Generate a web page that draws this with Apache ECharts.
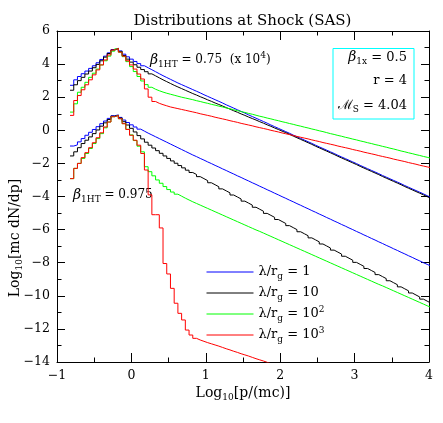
<!DOCTYPE html>
<html><head><meta charset="utf-8">
<script src="https://cdn.jsdelivr.net/npm/echarts@6/dist/echarts.min.js"></script>
<style>html,body{margin:0;padding:0;background:#fff}#c{width:443px;height:423px}</style>
</head><body><div id="c"></div>
<script>
// Histogram bins in log10[p/(mc)]: left edge of the first bin and the bin width
const binStart = -0.825;
const binWidth = 0.05;

// Series keys (legend) and colours
const seriesKeys = ['l1', 'l10', 'l100', 'l1000'];
const seriesColors = ['#0000ff', '#000000', '#00ff00', '#ff0000'];

// Upper group: beta_1HT = 0.75 (x 10^4), values of log10[mc dN/dp] per bin
const blueUpper = [2.72,3.05,3.25,3.42,3.58,3.74,3.9,4.08,4.28,4.48,4.68,4.88,4.95,
 4.8,4.6,4.44,4.3,4.16,4.03,3.9,3.78,3.66,3.54,3.42,3.3,3.19,3.08,2.97,2.86,2.76,2.66,2.56,2.46,
 2.36,2.26,2.15,2.05,1.95,1.85,1.75,1.65,1.54,1.44,1.34,1.24,1.14,1.04,0.93,0.83,0.73,0.63,0.53,0.43,0.32,0.22,0.12,0.02,-0.08,-0.18,-0.29,-0.39,-0.49,-0.59,-0.69,-0.79,-0.9,-1.0,-1.1,-1.2,-1.3,-1.4,-1.51,-1.61,-1.71,-1.81,-1.91,-2.01,-2.12,-2.22,-2.32,-2.42,-2.52,-2.62,-2.73,-2.83,-2.93,-3.03,-3.13,-3.23,-3.34,-3.44,-3.54,-3.64,-3.74,-3.84,-3.95,-4.05];
const blackUpper = [2.42,2.75,3.0,3.2,3.4,3.58,3.78,3.98,4.2,4.42,4.64,4.85,4.93,
 4.76,4.52,4.3,4.12,3.96,3.81,3.67,3.54,3.41,3.29,3.17,3.05,2.94,2.83,2.72,2.62,2.52,2.42,2.32,2.22,
 2.13,2.03,1.94,1.84,1.75,1.65,1.56,1.47,1.37,1.28,1.18,1.09,0.99,0.9,0.8,0.71,0.62,0.52,0.43,0.33,0.24,0.14,0.05,-0.05,-0.14,
 -0.24,-0.35,-0.45,-0.55,-0.65,-0.75,-0.85,-0.96,-1.06,-1.16,-1.26,-1.36,-1.46,-1.57,-1.67,-1.77,-1.87,-1.97,-2.07,-2.18,-2.28,-2.38,-2.48,-2.58,-2.68,-2.79,-2.89,-2.99,-3.09,-3.19,-3.29,-3.4,-3.5,-3.6,-3.7,-3.8,-3.9,-4.01,-4.11];
const greenUpper = [1.1,1.6,2.3,2.6,2.9,3.2,3.45,3.7,3.95,4.2,4.48,4.78,4.92,
 4.72,4.45,4.15,3.85,3.55,3.25,2.98,2.76,2.6,2.48,2.39,2.31,2.24,2.18,2.12,2.06,2.0,1.95,1.9,1.85,
 1.79,1.74,1.68,1.63,1.57,1.52,1.46,1.41,1.35,1.3,1.24,1.19,1.13,1.08,1.02,0.97,0.91,0.85,0.8,0.74,0.69,0.63,0.58,0.52,0.47,0.41,0.36,0.3,0.25,0.19,0.14,0.08,0.03,-0.03,-0.08,-0.14,-0.2,-0.25,-0.31,-0.36,-0.42,-0.47,-0.53,-0.58,-0.64,-0.69,-0.75,-0.8,-0.86,-0.91,-0.97,-1.02,-1.08,-1.13,-1.19,-1.25,-1.3,-1.36,-1.41,-1.47,-1.52,-1.58,-1.63,-1.69];
const redUpper = [0.9,1.8,2.1,2.45,2.75,3.05,3.35,3.65,3.95,4.25,4.55,4.85,4.95,
 4.72,4.48,4.2,3.95,3.7,3.4,3.1,2.5,2.0,1.74,1.63,1.55,1.48,1.41,1.36,1.31,1.26,1.21,1.16,1.11,
 1.06,1.0,0.95,0.9,0.85,0.79,0.74,0.69,0.64,0.58,0.53,0.48,0.42,0.37,0.32,0.27,0.21,0.16,0.11,0.06,0.0,-0.05,-0.1,-0.16,-0.21,-0.26,-0.31,-0.37,-0.42,-0.47,-0.52,-0.58,-0.63,-0.68,-0.74,-0.79,-0.84,-0.89,-0.95,-1.0,-1.05,-1.1,-1.16,-1.21,-1.26,-1.32,-1.37,-1.42,-1.47,-1.53,-1.58,-1.63,-1.68,-1.74,-1.79,-1.84,-1.89,-1.95,-2.0,-2.05,-2.11,-2.16,-2.21,-2.26];

// Lower group: beta_1HT = 0.975
const blueLower = [-0.95,-0.88,-0.7,-0.5,-0.3,-0.12,0.05,0.22,0.4,0.56,0.72,0.88,0.93,
 0.78,0.62,0.47,0.33,0.2,0.07,-0.05,-0.17,-0.28,-0.39,-0.5,-0.61,-0.72,-0.83,-0.94,-1.05,-1.16,-1.27,-1.38,-1.49,
 -1.59,-1.7,-1.8,-1.91,-2.01,-2.12,-2.22,-2.33,-2.43,-2.54,-2.64,-2.75,-2.85,-2.96,-3.06,-3.17,-3.27,-3.38,-3.48,-3.59,-3.69,-3.8,-3.9,-4.01,-4.11,-4.22,-4.32,-4.43,-4.53,-4.64,-4.74,-4.85,-4.95,-5.06,-5.16,-5.27,-5.37,-5.48,-5.58,-5.69,-5.79,-5.9,-6.0,-6.11,-6.21,-6.32,-6.42,-6.53,-6.63,-6.74,-6.84,-6.95,-7.05,-7.16,-7.26,-7.37,-7.47,-7.58,-7.68,-7.79,-7.89,-8.0,-8.1,-8.2];
const blackLower = [-1.55,-1.3,-1.05,-0.8,-0.6,-0.4,-0.2,0.02,0.25,0.45,0.65,0.85,0.9,
 0.74,0.52,0.32,0.12,-0.1,-0.32,-0.52,-0.72,-0.9,-1.07,-1.23,-1.39,-1.55,-1.7,-1.85,-1.99,-2.13,-2.27,-2.41,-2.55,
 -2.67,-2.8,-2.92,-3.04,-3.17,-3.29,-3.41,-3.54,-3.66,-3.78,-3.91,-4.03,-4.15,-4.28,-4.4,-4.52,-4.65,-4.77,-4.89,-5.02,-5.14,-5.26,-5.39,-5.51,-5.63,-5.76,-5.88,-6.0,-6.13,-6.25,-6.37,-6.5,-6.62,-6.74,-6.87,-6.99,-7.11,-7.24,-7.36,-7.48,-7.61,-7.73,-7.85,-7.98,-8.1,-8.22,-8.35,-8.47,-8.59,-8.72,-8.84,-8.96,-9.09,-9.21,-9.33,-9.46,-9.58,-9.7,-9.83,-9.95,-10.07,-10.2,-10.32,-10.44];
const greenLower = [-2.92,-2.3,-2.0,-1.7,-1.4,-1.1,-0.8,-0.5,-0.2,0.15,0.5,0.82,0.9,
 0.7,0.4,0.06,-0.28,-0.62,-0.96,-1.3,-2.2,-2.5,-2.75,-3.0,-3.2,-3.4,-3.58,-3.73,-3.86,-3.98,-4.1,-4.21,-4.32,
 -4.42,-4.52,-4.62,-4.72,-4.82,-4.92,-5.02,-5.12,-5.22,-5.32,-5.42,-5.52,-5.62,-5.72,-5.82,-5.92,-6.02,-6.11,-6.21,-6.31,-6.41,-6.51,-6.61,-6.71,-6.81,-6.91,-7.01,-7.11,-7.21,-7.31,-7.41,-7.51,-7.61,-7.71,-7.81,-7.91,-8.01,-8.11,-8.21,-8.31,-8.41,-8.51,-8.61,-8.71,-8.81,-8.91,-9.01,-9.11,-9.21,-9.31,-9.4,-9.5,-9.6,-9.7,-9.8,-9.9,-10.0,-10.1,-10.2,-10.3,-10.4,-10.5,-10.6,-10.7];
const redLower = [-2.92,-2.3,-2.0,-1.65,-1.35,-1.05,-0.75,-0.45,-0.15,0.2,0.5,0.82,0.9,
 0.7,0.4,0.05,-0.3,-0.6,-0.9,-1.4,-2.4,-3.9,-5.1,-5.1,-5.9,-8.05,-8.68,-9.55,-10.45,-11.06,-11.46,-12.07,-12.37,
 -12.57,-12.67,-12.75,-12.83,-12.9,-12.97,-13.04,-13.12,-13.2,-13.27,-13.35,-13.42,-13.5,-13.57,-13.64,-13.72,-13.8,-13.87,-13.94,-14.02,-14.1,-14.2];

// Axis ticks
const xMin = -1, xMax = 4, xStep = 1;
const yMin = -14, yMax = 6, yStep = 2;

const FONT = "'DejaVu Serif', 'Liberation Serif', serif";

function toSteps(vals) {
  const d = vals.map((v, i) => [binStart + i * binWidth, v]);
  d.push([binStart + vals.length * binWidth, vals[vals.length - 1]]);
  return d;
}
function fmt(v) { return v < 0 ? '\u2212' + Math.abs(v) : String(v); }

const groups = [
  [blueUpper, blackUpper, greenUpper, redUpper],
  [blueLower, blackLower, greenLower, redLower]
];
const series = [];
groups.forEach(g => g.forEach((vals, i) => {
  series.push({
    name: seriesKeys[i], type: 'line', step: 'end', data: toSteps(vals),
    symbol: 'none', showSymbol: false, clip: true, silent: true,
    lineStyle: { color: seriesColors[i], width: 1 }, itemStyle: { color: seriesColors[i] },
    z: 2 + i
  });
}));

const legendLabels = {
  l1: 'λ/r{sub|g} = 1',
  l10: 'λ/r{sub|g} = 10',
  l100: 'λ/r{sub|g} = 10{sup|2}',
  l1000: 'λ/r{sub|g} = 10{sup|3}'
};

const axisLineStyle = { show: true, onZero: false, lineStyle: { color: '#000', width: 1 } };
function xAx(pos, showLabel) {
  return {
    type: 'value', min: xMin, max: xMax, interval: xStep, position: pos,
    axisLine: axisLineStyle, splitLine: { show: false },
    axisTick: { show: true, inside: true, length: 9, lineStyle: { color: '#000' } },
    minorTick: { show: true, splitNumber: 2, length: 4.5, lineStyle: { color: '#000' } },
    axisLabel: { show: showLabel, margin: 7, color: '#000', fontFamily: FONT, fontSize: 12.5, formatter: fmt, showMinLabel: true, showMaxLabel: true }
  };
}
function yAx(pos, showLabel) {
  return {
    type: 'value', min: yMin, max: yMax, interval: yStep, position: pos,
    axisLine: axisLineStyle, splitLine: { show: false },
    axisTick: { show: true, inside: true, length: 8, lineStyle: { color: '#000' } },
    minorTick: { show: true, splitNumber: 2, length: 4.5, lineStyle: { color: '#000' } },
    axisLabel: { show: showLabel, margin: 7, color: '#000', fontFamily: FONT, fontSize: 12.5, formatter: fmt, showMinLabel: true, showMaxLabel: true }
  };
}

const subStyle = { fontFamily: FONT, fontSize: 9, fill: '#000', verticalAlign: 'bottom', lineHeight: 10 };
const supStyle = { fontFamily: FONT, fontSize: 9, fill: '#000', verticalAlign: 'top', lineHeight: 10 };
const betaStyle = { fontFamily: FONT, fontSize: 14, fontStyle: 'italic', fill: '#000', lineHeight: 18 };
const baseRich = { sub: subStyle, sup: supStyle, b: betaStyle };

function txt(text, x, y, align, size, extra) {
  return Object.assign({
    type: 'text', x: x, y: y, silent: true,
    style: { text: text, fontFamily: FONT, fontSize: size, fill: '#000', align: align, verticalAlign: 'middle', lineHeight: 18, rich: baseRich }
  }, extra || {});
}

const chart = echarts.init(document.getElementById('c'), null, { renderer: 'canvas' });
chart.setOption({
  animation: false,
  backgroundColor: '#fff',
  grid: { left: 57, right: 14, top: 31, bottom: 61, containLabel: false, outerBoundsMode: 'none' },
  xAxis: [xAx('bottom', true), xAx('top', false)],
  yAxis: [yAx('left', true), yAx('right', false)],
  legend: {
    data: seriesKeys, orient: 'vertical', left: 206, top: 263, padding: 0,
    itemWidth: 47, itemHeight: 12, itemGap: 3, selectedMode: false,
    itemStyle: { opacity: 0, borderWidth: 0 },
    lineStyle: { width: 1 },
    formatter: n => legendLabels[n],
    textStyle: {
      fontFamily: FONT, fontSize: 13, color: '#000', lineHeight: 18,
      rich: {
        sub: { fontFamily: FONT, fontSize: 9, color: '#000', verticalAlign: 'bottom', lineHeight: 10 },
        sup: { fontFamily: FONT, fontSize: 9, color: '#000', verticalAlign: 'top', lineHeight: 10 }
      }
    }
  },
  graphic: [
    txt('Distributions at Shock (SAS)', 242.5, 21.5, 'center', 15),
    txt('{b|β}{sub|1HT} = 0.75  (x 10{sup|4})', 150, 60, 'left', 12),
    txt('{b|β}{sub|1HT} = 0.975', 73, 195, 'left', 12),
    { type: 'rect', silent: true, shape: { x: 333, y: 48.5, width: 81, height: 70.5 }, style: { fill: 'none', stroke: '#00ffff', lineWidth: 1 } },
    txt('{b|β}{sub|1x} = 0.5', 407, 57.5, 'right', 13),
    txt('r = 4', 407, 81, 'right', 13),
    txt('\u2133{sub|S} = 4.04', 407, 105.5, 'right', 13),
    txt('Log{sub|10}[p/(mc)]', 243, 393, 'center', 14),
    txt('Log{sub|10}[mc dN/dp]', 15, 238, 'center', 14, { rotation: Math.PI / 2 })
  ],
  series: series
});
</script>
</body></html>
